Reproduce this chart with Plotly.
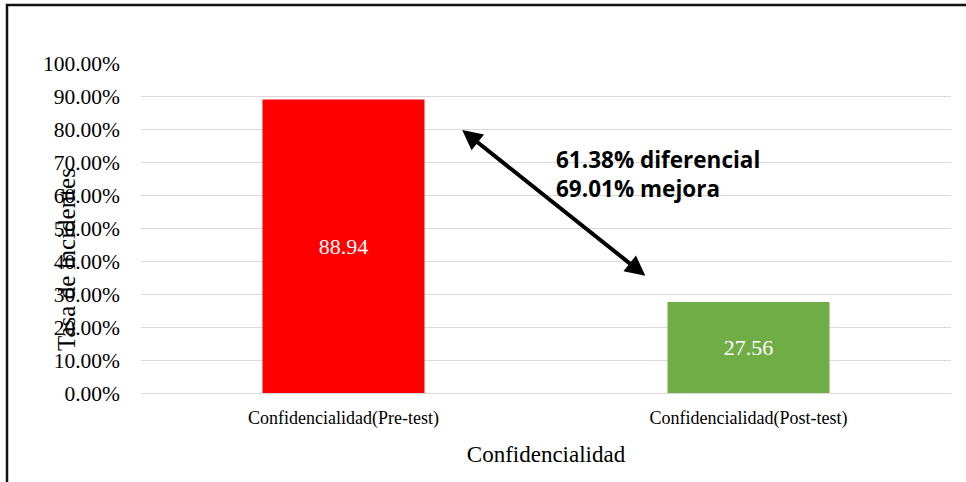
import plotly.graph_objects as go

# Incident rate before and after, stored as fractions (axis shows percent)
categories = ["Confidencialidad(Pre-test)", "Confidencialidad(Post-test)"]
rates = [0.8894, 0.2756]
bar_colors = ["#ff0000", "#70ad47"]
y_ticks = [i / 10 for i in range(11)]
note_lines = ["61.38% diferencial", "69.01% mejora"]

serif = "Liberation Serif, Times New Roman, serif"

fig = go.Figure()
fig.add_trace(go.Bar(
    x=categories,
    y=rates,
    marker=dict(color=bar_colors, line=dict(width=0)),
    width=0.4,
    text=[f"{v * 100:.2f}" for v in rates],
    textposition="inside",
    insidetextanchor="middle",
    textangle=0,
    textfont=dict(family=serif, size=22, color="white"),
    hoverinfo="skip",
))

fig.update_layout(
    width=966,
    height=482,
    margin=dict(l=141, r=15, t=63, b=89),
    paper_bgcolor="white",
    plot_bgcolor="white",
    showlegend=False,
    xaxis=dict(
        range=[-0.5, 1.5],
        showgrid=False,
        showline=False,
        ticks="",
        ticklabelstandoff=12,
        tickfont=dict(family=serif, size=18, color="#000"),
        title=dict(text="Confidencialidad", font=dict(family=serif, size=23, color="#000"), standoff=17),
    ),
    yaxis=dict(
        range=[0, 1.0],
        tickvals=y_ticks,
        tickformat=".2%",
        showgrid=True,
        gridcolor="#d9d9d9",
        gridwidth=1,
        zeroline=True,
        zerolinecolor="#d9d9d9",
        zerolinewidth=1,
        showline=False,
        ticks="",
        ticklabelstandoff=20,
        tickfont=dict(family=serif, size=21.5, color="#000"),
    ),
)

# Rotated y-axis title placed over the tick labels
fig.add_annotation(
    text="Tasa de incidentes",
    xref="paper", yref="paper",
    x=(66 - 141) / 810, y=(393 - 260) / 330,
    xanchor="center", yanchor="middle",
    textangle=-90,
    showarrow=False,
    font=dict(family=serif, size=25, color="#000"),
)

# Double-headed arrow between the two bar heights
fig.add_annotation(
    x=0.293, y=0.797,
    ax=0.749, ay=0.3515,
    xref="x", yref="y", axref="x", ayref="y",
    text="",
    showarrow=True,
    arrowhead=2,
    startarrowhead=2,
    arrowside="end+start",
    arrowsize=1,
    startarrowsize=1,
    arrowwidth=4,
    arrowcolor="#000",
)

fig.add_annotation(
    text="<br>".join(f"<b>{s}</b>" for s in note_lines),
    xref="paper", yref="paper",
    x=(554 - 141) / 810, y=(393 - 174) / 330,
    xanchor="left", yanchor="middle",
    align="left",
    showarrow=False,
    font=dict(family="Open Sans, Lato, sans-serif", size=22.5, color="#000", lineposition="none"),
)

# Outer frame around the chart
fig.add_shape(
    type="rect",
    xref="paper", yref="paper",
    x0=(7 - 141) / 810, x1=1.2,
    y0=-0.5, y1=1 + (63 - 5) / 330,
    line=dict(color="#111", width=2.5),
    fillcolor="rgba(0,0,0,0)",
    layer="above",
)

fig.write_html("out.html")
